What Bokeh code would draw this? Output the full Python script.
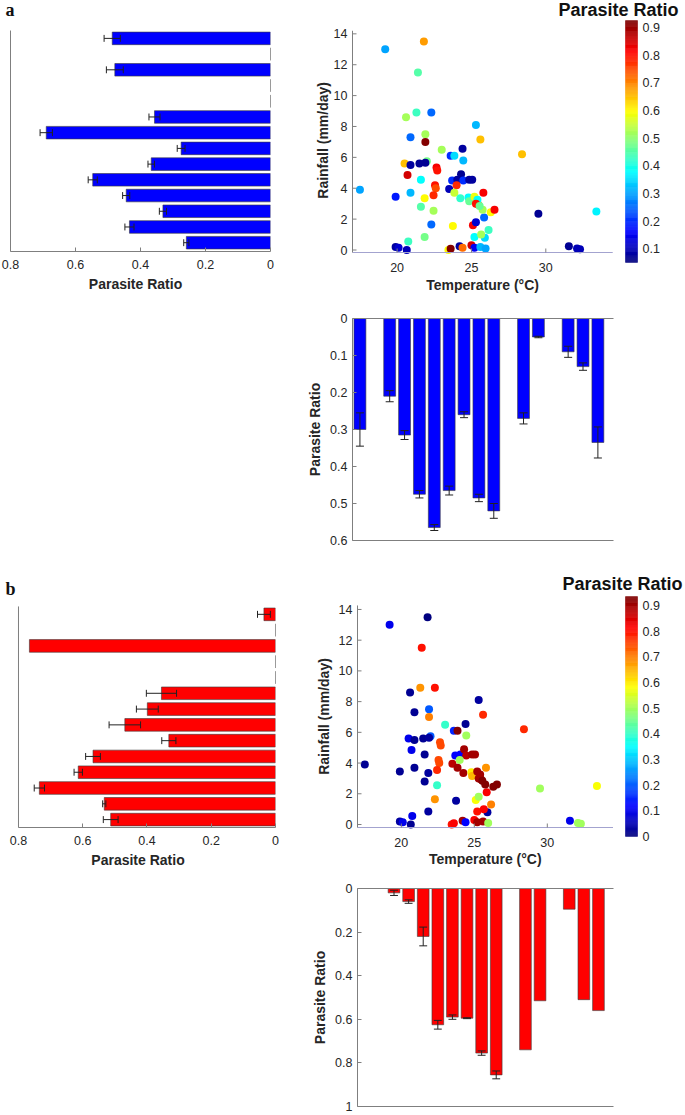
import numpy as np
from bokeh.plotting import figure
from bokeh.models import Range1d, LinearAxis, FixedTicker, Spacer, ColumnDataSource, Label
from bokeh.layouts import column, row
from bokeh.transform import linear_cmap
from bokeh.core.properties import value
from bokeh.embed import file_html
from bokeh.resources import INLINE

# ---------------- data ----------------
rain_bins = [0.5, 1.5, 2.5, 3.5, 4.5, 5.5, 6.5, 7.5, 8.5, 9.5, 10.5, 11.5, 12.5, 13.5]
temp_bins = [17.5, 18.5, 19.5, 20.5, 21.5, 22.5, 23.5, 24.5, 25.5, 26.5, 27.5, 28.5,
             29.5, 30.5, 31.5, 32.5, 33.5]

a_rain_ratio = [0.259, 0.434, 0.331, 0.444, 0.547, 0.367, 0.275, 0.69, 0.357, 0, 0, 0.479, 0, 0.487]
a_rain_err = [0.008, 0.014, 0.011, 0.011, 0.014, 0.010, 0.012, 0.019, 0.017, 0, 0, 0.026, 0, 0.025]
b_rain_ratio = [0.513, 0.533, 0.735, 0.614, 0.568, 0.332, 0.469, 0.399, 0.355, 0, 0, 0.766, 0, 0.036]
b_rain_err = [0.023, 0.005, 0.016, 0.013, 0.023, 0.022, 0.049, 0.034, 0.047, 0, 0, 0, 0, 0.020]

a_temp_ratio = [0.30, 0, 0.21, 0.315, 0.475, 0.565, 0.465, 0.26, 0.485, 0.52, 0, 0.27, 0.05, 0, 0.09, 0.13, 0.335]
a_temp_err = [0.045, 0, 0.015, 0.012, 0.010, 0.008, 0.012, 0.008, 0.010, 0.020, 0, 0.015, 0.002, 0, 0.015, 0.010, 0.042]
b_temp_ratio = [0, 0, 0.02, 0.06, 0.22, 0.625, 0.59, 0.595, 0.755, 0.855, 0, 0.74, 0.515, 0, 0.095, 0.51, 0.56]
b_temp_err = [0, 0, 0.012, 0.008, 0.043, 0.020, 0.010, 0.002, 0.010, 0.018, 0, 0, 0, 0, 0, 0, 0]

temperature = [19.2, 21.8, 21.4, 20.6, 21.3, 22.3, 25.3, 20.9, 21.9, 21.9, 25.6, 28.4, 23.0, 24.4,
               23.6, 23.85, 24.45, 20.5, 20.9, 21.5, 22.0, 21.9, 22.65, 22.7, 20.7, 21.6, 23.7,
               24.05, 24.3, 24.45, 24.85, 25.05, 23.5, 24.0, 23.85, 22.55, 22.6, 22.45, 20.9, 19.9,
               17.5, 21.85, 21.6, 22.45, 22.3, 23.75, 21.85, 20.75, 19.9, 20.1, 20.65, 23.45, 23.6,
               24.2, 24.4, 25.0, 25.2, 25.6, 25.95, 25.9, 25.2, 26.15, 25.65, 25.1, 25.3, 25.85,
               25.75, 26.3, 26.55, 25.45, 25.8, 29.5, 33.4, 31.55, 32.1, 32.3, 24.25, 24.8, 24.85,
               25.2, 25.4, 25.3, 25.55]
rainfall = [13.0, 13.5, 11.5, 8.6, 8.9, 8.9, 8.1, 7.3, 7.5, 7.0, 7.15, 6.2, 6.5, 6.55,
            6.1, 6.1, 5.8, 5.6, 5.5, 5.6, 5.75, 5.65, 5.35, 5.15, 4.85, 4.55, 4.5,
            4.55, 4.9, 4.5, 4.55, 4.55, 3.95, 4.2, 3.7, 4.2, 4.0, 3.55, 3.7, 3.45,
            3.9, 3.35, 2.8, 2.55, 1.65, 1.55, 0.85, 0.55, 0.2, 0.15, 0.0, 0.0, 0.08,
            0.25, 0.15, 0.3, 0.15, 0.2, 0.1, 0.8, 0.85, 1.3, 1.0, 1.6, 1.8, 2.1,
            2.6, 2.45, 2.6, 2.95, 3.7, 2.35, 2.5, 0.25, 0.1, 0.05, 3.35, 3.4, 3.15,
            3.45, 3.25, 3.0, 2.85]
ratio_a = [0.30, 0.68, 0.45, 0.52, 0.43, 0.25, 0.32, 0.25, 0.52, 0.92, 0.65, 0.65, 0.52, 0.08,
           0.20, 0.35, 0.32, 0.65, 0.08, 0.07, 0.48, 0.07, 0.82, 0.80, 0.85, 0.38, 0.20,
           0.08, 0.07, 0.20, 0.08, 0.08, 0.10, 0.78, 0.55, 0.80, 0.75, 0.78, 0.32, 0.18,
           0.30, 0.60, 0.45, 0.52, 0.25, 0.60, 0.48, 0.43, 0.08, 0.12, 0.10, 0.60, 0.92,
           0.08, 0.72, 0.85, 0.15, 0.32, 0.30, 0.35, 0.38, 0.43, 0.52, 0.82, 0.12, 0.25,
           0.52, 0.60, 0.82, 0.72, 0.82, 0.07, 0.37, 0.07, 0.10, 0.10, 0.42, 0.38, 0.47,
           0.58, 0.38, 0.80, 0.47]
ratio_b = [0.10, 0.00, 0.80, 0.02, 0.68, 0.80, 0.03, 0.02, 0.20, 0.70, 0.78, 0.78, 0.40, 0.02,
           0.15, 0.93, 0.50, 0.10, 0.02, 0.02, 0.20, 0.03, 0.75, 0.75, 0.10, 0.02, 0.12,
           0.12, 0.90, 0.88, 0.90, 0.90, 0.88, 0.50, 0.90, 0.75, 0.75, 0.78, 0.02, 0.02,
           0.02, 0.03, 0.02, 0.40, 0.68, 0.03, 0.03, 0.10, 0.03, 0.10, 0.02, 0.80, 0.82,
           0.90, 0.12, 0.82, 0.90, 0.90, 0.50, 0.03, 0.80, 0.70, 0.82, 0.58, 0.50, 0.82,
           0.93, 0.93, 0.93, 0.93, 0.68, 0.50, 0.58, 0.10, 0.50, 0.50, 0.90, 0.60, 0.65,
           0.90, 0.90, 0.90, 0.93]

ratio_ticks = [0, 0.2, 0.4, 0.6, 0.8]
rain_ticks = [0, 2, 4, 6, 8, 10, 12, 14]
rain_labels = ["0", "2", "4", "6", "8", "10", "12", "14"]
temp_ticks = [20, 25, 30]
temp_labels = ["20", "25", "30"]
a_bar_ticks = [0, 0.1, 0.2, 0.3, 0.4, 0.5, 0.6]
b_bar_ticks = [0, 0.2, 0.4, 0.6, 0.8, 1]
a_cbar_ticks = [0.1, 0.2, 0.3, 0.4, 0.5, 0.6, 0.7, 0.8, 0.9]
a_cbar_labels = ["0.1", "0.2", "0.3", "0.4", "0.5", "0.6", "0.7", "0.8", "0.9"]
b_cbar_ticks = [0, 0.1, 0.2, 0.3, 0.4, 0.5, 0.6, 0.7, 0.8, 0.9]
b_cbar_labels = ["0", "0.1", "0.2", "0.3", "0.4", "0.5", "0.6", "0.7", "0.8", "0.9"]

# ---------------- style ----------------
FONT = "Liberation Sans"
TXT = "#262626"
AXC = "#7f7f7f"
TICK_FS = "12.5px"
LAB_FS = "14px"


def jet(n=256):
    out = []
    for i in range(n):
        x = i / (n - 1)
        r = min(max(1.5 - abs(4 * x - 3), 0), 1)
        g = min(max(1.5 - abs(4 * x - 2), 0), 1)
        b = min(max(1.5 - abs(4 * x - 1), 0), 1)
        out.append("#%02x%02x%02x" % (int(r * 255), int(g * 255), int(b * 255)))
    return out


JET = jet()


def new_fig(fw, fh, mbl, mbr, mbt, mbb, xr, yr):
    p = figure(frame_width=fw, frame_height=fh, x_range=xr, y_range=yr,
               min_border_left=mbl, min_border_right=mbr, min_border_top=mbt,
               min_border_bottom=mbb, toolbar_location=None, output_backend="svg")
    p.outline_line_color = None
    p.grid.visible = False
    p.background_fill_color = "white"
    p.border_fill_color = "white"
    return p


def style_ax(ax, ticks, label=None, tick_in=4, standoff=7, show_labels=True):
    ax.ticker = FixedTicker(ticks=ticks)
    ax.axis_line_color = AXC
    ax.axis_line_width = 1
    ax.major_tick_line_color = AXC
    ax.major_tick_in = tick_in
    ax.major_tick_out = 0
    ax.minor_tick_line_color = None
    ax.major_label_text_font = FONT
    ax.major_label_text_font_size = TICK_FS if show_labels else "0px"
    ax.major_label_text_color = TXT
    ax.major_label_standoff = standoff
    ax.major_label_overrides = {0: "0", 1: "1"}
    if label:
        ax.axis_label = label
        ax.axis_label_text_font = FONT
        ax.axis_label_text_font_style = "bold"
        ax.axis_label_text_font_size = LAB_FS
        ax.axis_label_text_color = TXT
        ax.axis_label_standoff = 4


def add_label(p, text, x, y, font, size):
    p.add_layout(Label(x=x, y=y, x_units="screen", y_units="screen", text=text,
                       text_font=font, text_font_style="bold", text_font_size=size,
                       text_baseline="middle", text_align="left", text_color="#111111"))


def hbar_panel(ratio, err, color, fw, mbr, fh, mbb, xstart, yr, ytop, letter, letter_y):
    p = new_fig(fw, fh, 0, mbr, 0, mbb, Range1d(xstart, 0), Range1d(*yr))
    p.yaxis.visible = False
    p.hbar(y=rain_bins, left=0, right=ratio, height=0.8, fill_color=color,
           line_color="#3a3a3a", line_width=0.6)
    v = np.array(ratio)
    e = np.array(err)
    y = np.array(rain_bins)
    m = e > 0
    p.segment(x0=v[m] - e[m], y0=y[m], x1=v[m] + e[m], y1=y[m], line_color="#222222", line_width=1)
    for s in (-1, 1):
        p.segment(x0=v[m] + s * e[m], y0=y[m] - 0.22, x1=v[m] + s * e[m], y1=y[m] + 0.22,
                  line_color="#222222", line_width=1)
    # left spine
    p.segment(x0=[0.8], y0=[yr[0]], x1=[0.8], y1=[ytop], line_color=AXC, line_width=1)
    xa = p.below[0]
    style_ax(xa, ratio_ticks, "Parasite Ratio", standoff=8)
    xa.bounds = (0, 0.8)
    add_label(p, letter, 5, letter_y, "Liberation Serif", "18px")
    return p


def scatter_panel(ratio, lo, hi, cticks, clabels, fl, pxx, fh, y0_px, ppu, ax_px,
                  ylab_px, xlab_px, ybounds, ylab_x_px, ylab_y, cb_x_px, cb_top_px,
                  cb_bot_px, title_x, title_y):
    # panel spans image x 290..685 ; fl = pixels from panel left to T=17
    fw = 395
    xr = (17 - fl / pxx, 17 + (fw - fl) / pxx)
    ytop = y0_px / ppu
    ybot = -(fh - y0_px) / ppu
    p = new_fig(fw, fh, 0, 0, 0, 0, Range1d(*xr), Range1d(ybot, ytop))
    p.xaxis.visible = False
    p.yaxis.visible = False
    src = ColumnDataSource(dict(t=temperature, r=rainfall, v=ratio))
    p.scatter(x="t", y="r", source=src, size=8, line_color=None,
              fill_color=linear_cmap("v", JET, lo, hi))
    # x axis drawn inside the frame
    ya_ = (y0_px - ax_px) / ppu
    p.segment(x0=[17], y0=[ya_], x1=[34.5], y1=[ya_], line_color="#a3a3cf", line_width=1)
    p.segment(x0=temp_ticks, y0=[ya_] * 3, x1=temp_ticks, y1=[ya_ + 4 / ppu] * 3,
              line_color=AXC, line_width=1)
    p.text(x=temp_ticks, y=[(y0_px - ylab_px) / ppu] * 3, text=temp_labels,
           text_font=value(FONT), text_font_size=TICK_FS, text_color=TXT,
           text_align="center", text_baseline="middle")
    p.text(x=[25.75], y=[(y0_px - xlab_px) / ppu], text=["Temperature (°C)"],
           text_font=value(FONT), text_font_size=LAB_FS, text_font_style="bold",
           text_color=TXT, text_align="center", text_baseline="middle")
    # y axis drawn inside the frame
    p.segment(x0=[17], y0=[ybounds[0]], x1=[17], y1=[ybounds[1]], line_color=AXC, line_width=1)
    p.segment(x0=[17] * len(rain_ticks), y0=rain_ticks, x1=[17 + 4 / pxx] * len(rain_ticks),
              y1=rain_ticks, line_color=AXC, line_width=1)
    p.text(x=[17 - 5 / pxx] * len(rain_ticks), y=rain_ticks, text=rain_labels,
           text_font=value(FONT), text_font_size=TICK_FS, text_color=TXT,
           text_align="right", text_baseline="middle")
    p.text(x=[17 - ylab_x_px / pxx], y=[ylab_y], text=["Rainfall (mm/day)"], angle=np.pi / 2,
           text_font=value(FONT), text_font_size=LAB_FS, text_font_style="bold",
           text_color=TXT, text_align="center", text_baseline="middle")
    # colour bar (drawn inside the same frame on its own ranges)
    upp = (hi - lo) / (cb_bot_px - cb_top_px)
    p.extra_x_ranges = {"cbx": Range1d(-cb_x_px / 12, (fw - cb_x_px) / 12)}
    p.extra_y_ranges = {"cby": Range1d(lo - (fh - cb_bot_px) * upp, hi + cb_top_px * upp)}
    edges = np.linspace(lo, hi, len(JET) + 1)
    p.quad(left=0, right=1, bottom=edges[:-1], top=edges[1:], fill_color=JET,
           line_color=JET, line_width=0.4, x_range_name="cbx", y_range_name="cby")
    p.text(x=[1.42] * len(cticks), y=cticks, text=clabels, x_range_name="cbx",
           y_range_name="cby", text_font=value(FONT), text_font_size=TICK_FS,
           text_color=TXT, text_baseline="middle", text_align="left")
    add_label(p, "Parasite Ratio", title_x, title_y, FONT, "18px")
    return p


def vbar_panel(ratio, err, color, ymax, yticks, fl, fw, mbr, fh, mbt, mbb, xend):
    p = new_fig(fw, fh, fl, mbr, mbt, mbb, Range1d(17, xend), Range1d(ymax, 0))
    p.vbar(x=temp_bins, bottom=0, top=ratio, width=0.8, fill_color=color,
           line_color="#3a3a3a", line_width=0.6)
    v = np.array(ratio)
    e = np.array(err)
    x = np.array(temp_bins)
    m = e > 0
    p.segment(x0=x[m], y0=v[m] - e[m], x1=x[m], y1=v[m] + e[m], line_color="#222222", line_width=1)
    for s in (-1, 1):
        p.segment(x0=x[m] - 0.27, y0=v[m] + s * e[m], x1=x[m] + 0.27, y1=v[m] + s * e[m],
                  line_color="#222222", line_width=1)
    style_ax(p.left[0], yticks, "Parasite Ratio", standoff=5)
    style_ax(p.below[0], [], None, tick_in=0, standoff=0, show_labels=False)
    top = LinearAxis()
    style_ax(top, [], None, tick_in=0, standoff=0, show_labels=False)
    p.add_layout(top, "above")
    return p


# ---------------- panels ----------------
# panel a (image y 0..560)
A_left = hbar_panel(a_rain_ratio, a_rain_err, "#0000ff", 270, 20, 251, 49,
                    0.8308, (-0.06, 15.91), 14.0, "a", 242)
A_sc = scatter_panel(ratio_a, 0.05, 0.925, a_cbar_ticks, a_cbar_labels, 62, 14.87, 300,
                     249.5, 15.44, 252, 267, 284, (-0.16, 14.2), 30, 7.1,
                     335, 20, 262, 268, 291)
A_bot = vbar_panel(a_temp_ratio, a_temp_err, "#0000ff", 0.6, a_bar_ticks, 62, 261, 10,
                   222, 18, 20, 34.55)

# panel b (image y 560..1115)
B_left = hbar_panel(b_rain_ratio, b_rain_err, "#ff0000", 275, 15, 267, 45,
                    0.856, (0, 16.91), 14.0, "b", 239)
B_sc = scatter_panel(ratio_b, 0.0, 0.935, b_cbar_ticks, b_cbar_labels, 67, 14.6, 312,
                     264, 15.36, 267, 282, 298, (-0.195, 14.26), 34, 7.03,
                     335, 36, 276, 272, 289)
B_bot = vbar_panel(b_temp_ratio, b_temp_err, "#ff0000", 1.0, b_bar_ticks, 67, 256, 15,
                   218, 16, 9, 34.53)

layout = column(
    row(A_left, A_sc),
    row(Spacer(width=290, height=10), A_bot),
    row(B_left, B_sc),
    row(Spacer(width=290, height=10), B_bot),
)

open("out.html", "w").write(file_html(layout, INLINE))
